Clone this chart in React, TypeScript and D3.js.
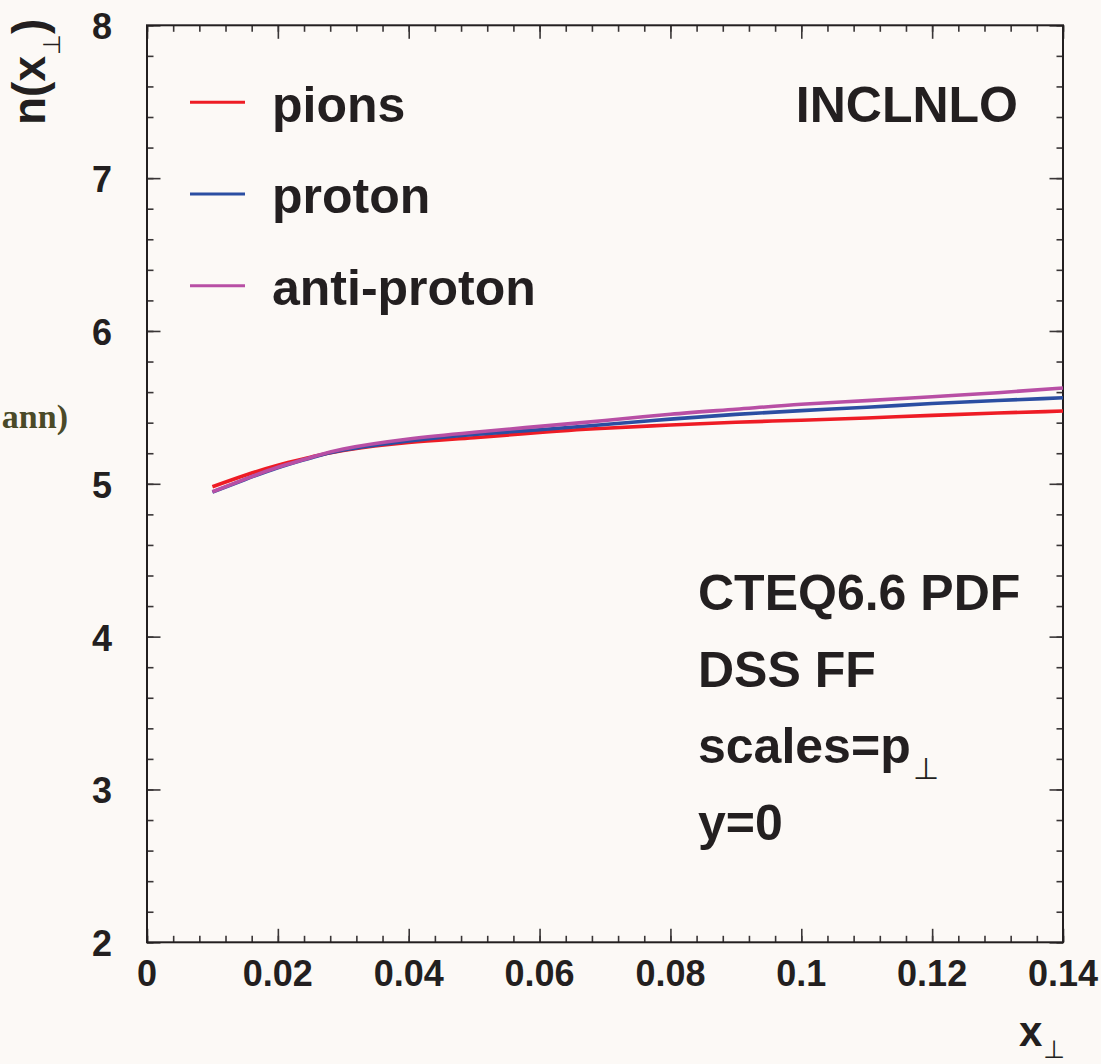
import React, { useEffect, useRef } from "react";
import * as d3 from "d3";

// x_perp grid where the curves were read
const xPerp = [0.01, 0.015, 0.02, 0.025, 0.03, 0.04, 0.05, 0.06, 0.07, 0.08, 0.09, 0.1, 0.11, 0.12, 0.13, 0.14];
const pions = [4.981, 5.056, 5.122, 5.174, 5.218, 5.27, 5.301, 5.336, 5.363, 5.385, 5.403, 5.416, 5.431, 5.448, 5.463, 5.476];
const proton = [4.946, 5.028, 5.105, 5.169, 5.221, 5.281, 5.323, 5.354, 5.388, 5.423, 5.454, 5.479, 5.501, 5.525, 5.545, 5.563];
const antiProton = [4.948, 5.031, 5.108, 5.172, 5.228, 5.293, 5.337, 5.376, 5.414, 5.455, 5.488, 5.52, 5.544, 5.57, 5.596, 5.627];

const legendNames = ["pions", "proton", "anti-proton"];
const seriesColors = ["#ee1c25", "#2b4ea2", "#b84fa5"];
const yTicks = [2, 3, 4, 5, 6, 7, 8];
const xTicks = [0, 0.02, 0.04, 0.06, 0.08, 0.1, 0.12, 0.14];
const xTickLabels = ["0", "0.02", "0.04", "0.06", "0.08", "0.1", "0.12", "0.14"];
const infoLines = ["CTEQ6.6 PDF", "DSS FF", "scales=p", "y=0"];

const BG = "#fcf9f6";
const INK = "#231f20";
const FONT = "'Liberation Sans', Arial, Helvetica, sans-serif";
const PERP_FONT = "'DejaVu Sans', sans-serif";

const App = () => {
  const ref = useRef<SVGSVGElement | null>(null);

  useEffect(() => {
    const root = d3.select(ref.current);
    root.selectAll("*").remove();

    const margin = { top: 25.3, left: 147 };
    const width = 916;
    const height = 917;

    root.append("rect").attr("width", 1101).attr("height", 1064).attr("fill", BG);

    const svg = root.append("g").attr("transform", `translate(${margin.left},${margin.top})`);

    const x = d3.scaleLinear().domain([0, 0.14]).range([0, width]);
    const y = d3.scaleLinear().domain([2, 8]).range([height, 0]);

    const xMinor = d3.range(0, 0.1401, 0.004);
    const yMinor = d3.range(2, 8.001, 0.2);

    const styleAxis = (g, w) => {
      g.select(".domain").remove();
      g.selectAll("line").attr("stroke", "#3a3637").attr("stroke-width", w);
    };

    // ticks on all four sides, pointing inward
    const sides = [
      { axis: d3.axisBottom(x), t: `translate(0,${height})`, ticks: [xMinor, xTicks] },
      { axis: d3.axisTop(x), t: "translate(0,0)", ticks: [xMinor, xTicks] },
      { axis: d3.axisLeft(y), t: "translate(0,0)", ticks: [yMinor, yTicks] },
      { axis: d3.axisRight(y), t: `translate(${width},0)`, ticks: [yMinor, yTicks] },
    ];
    sides.forEach((s) => {
      s.ticks.forEach((tv, k) => {
        const ax = s.axis.tickValues(tv).tickSize(k === 0 ? -6.5 : -13.5).tickFormat(() => "");
        svg.append("g").attr("transform", s.t).call(ax).call((g) => styleAxis(g, 1.6));
      });
    });

    svg.append("rect")
      .attr("width", width)
      .attr("height", height)
      .attr("fill", "none")
      .attr("stroke", INK)
      .attr("stroke-width", 2);

    // tick labels
    svg.selectAll(".xlab")
      .data(xTicks)
      .enter()
      .append("text")
      .attr("x", (d) => x(d))
      .attr("y", height + 44)
      .attr("text-anchor", "middle")
      .attr("font-family", FONT)
      .attr("font-weight", "bold")
      .attr("font-size", 36)
      .attr("fill", INK)
      .text((d, i) => xTickLabels[i]);

    svg.selectAll(".ylab")
      .data(yTicks)
      .enter()
      .append("text")
      .attr("x", 112 - margin.left)
      .attr("y", (d) => y(d) + 14)
      .attr("text-anchor", "end")
      .attr("font-family", FONT)
      .attr("font-weight", "bold")
      .attr("font-size", 36)
      .attr("fill", INK)
      .text((d) => d);

    // curves
    const series = [pions, proton, antiProton];
    const line = d3.line().x((d) => x(d[0])).y((d) => y(d[1])).curve(d3.curveNatural);
    series.forEach((vals, i) => {
      svg.append("path")
        .datum(xPerp.map((xv, j) => [xv, vals[j]]))
        .attr("d", line)
        .attr("fill", "none")
        .attr("stroke", seriesColors[i])
        .attr("stroke-width", 3.6);
    });

    // legend
    legendNames.forEach((name, i) => {
      const cy = 102.3 + i * 91.7 - margin.top;
      svg.append("line")
        .attr("x1", 190 - margin.left)
        .attr("x2", 245 - margin.left)
        .attr("y1", cy)
        .attr("y2", cy)
        .attr("stroke", seriesColors[i])
        .attr("stroke-width", 3);
      svg.append("text")
        .attr("x", 272 - margin.left)
        .attr("y", cy + 19.5)
        .attr("font-family", FONT)
        .attr("font-weight", "bold")
        .attr("font-size", 50)
        .attr("fill", INK)
        .text(name);
    });

    svg.append("text")
      .attr("x", 1018 - margin.left)
      .attr("y", 122 - margin.top)
      .attr("text-anchor", "end")
      .attr("font-family", FONT)
      .attr("font-weight", "bold")
      .attr("font-size", 50)
      .attr("fill", INK)
      .text("INCLNLO");

    infoLines.forEach((txt, i) => {
      const t = svg.append("text")
        .attr("x", 698 - margin.left)
        .attr("y", 610 + i * 76.6 - margin.top)
        .attr("font-family", FONT)
        .attr("font-weight", "bold")
        .attr("font-size", 50)
        .attr("fill", INK)
        .text(txt);
      if (txt === "scales=p") {
        t.append("tspan")
          .attr("dx", 2)
          .attr("dy", 16)
          .attr("font-family", PERP_FONT)
          .attr("font-weight", "normal")
          .attr("font-size", 30)
          .text("⊥");
      }
    });

    // axis titles
    const xt = root.append("text")
      .attr("x", 1019)
      .attr("y", 1046)
      .attr("font-family", FONT)
      .attr("font-weight", "bold")
      .attr("font-size", 42)
      .attr("fill", INK)
      .text("x");
    xt.append("tspan")
      .attr("dx", 1)
      .attr("dy", 12)
      .attr("font-family", PERP_FONT)
      .attr("font-weight", "normal")
      .attr("font-size", 25)
      .text("⊥");

    const yt = root.append("text")
      .attr("transform", "translate(45,125) rotate(-90)")
      .attr("font-family", FONT)
      .attr("font-weight", "bold")
      .attr("font-size", 46)
      .attr("fill", INK)
      .text("n(x");
    yt.append("tspan")
      .attr("dx", 1)
      .attr("dy", 15)
      .attr("font-family", PERP_FONT)
      .attr("font-weight", "normal")
      .attr("font-size", 24)
      .text("⊥");
    yt.append("tspan")
      .attr("dy", -15)
      .text(")");

    // partly visible text from the neighbouring figure
    root.append("text")
      .attr("x", 68)
      .attr("y", 428)
      .attr("text-anchor", "end")
      .attr("font-family", "'Liberation Serif', 'Times New Roman', serif")
      .attr("font-weight", "bold")
      .attr("font-size", 34)
      .attr("fill", "#4a4a28")
      .text("ann)");
  }, []);

  return (
    <div style={{ position: "absolute", left: 0, top: 0, width: 1101, height: 1064, background: BG }}>
      <svg ref={ref} width={1101} height={1064} />
    </div>
  );
};

export default App;
